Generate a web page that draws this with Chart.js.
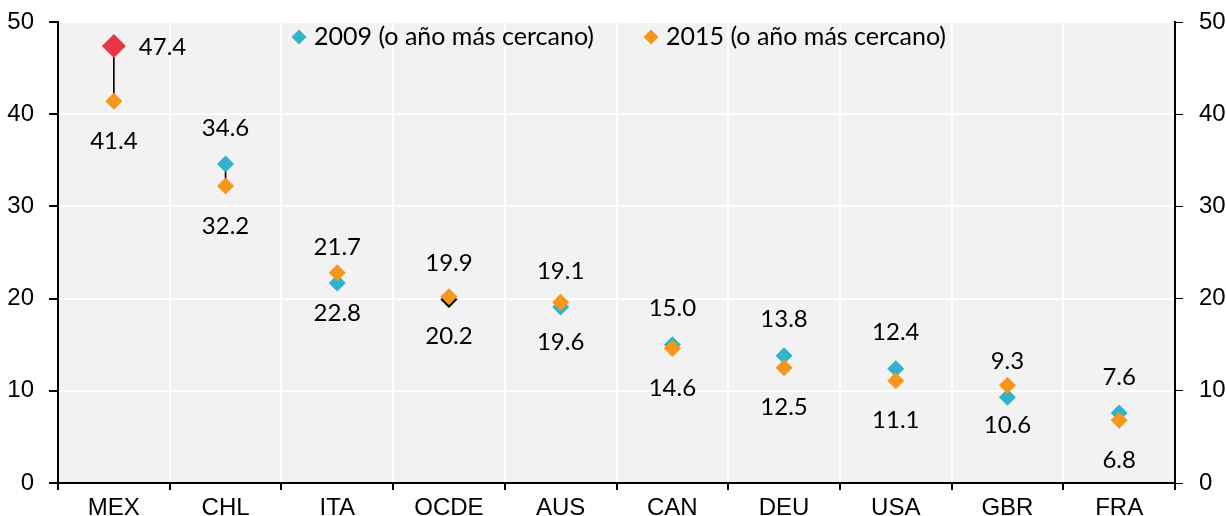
<!DOCTYPE html>
<html>
<head>
<meta charset="utf-8">
<script src="https://cdn.jsdelivr.net/npm/chart.js@4"></script>
<style>
html,body{margin:0;padding:0;background:#fff;}
#wrap{width:1226px;height:516px;}
</style>
</head>
<body>
<div id="wrap"><canvas id="c" width="1226" height="516"></canvas></div>
<script>
const categories = ["MEX","CHL","ITA","OCDE","AUS","CAN","DEU","USA","GBR","FRA"];
const values2009 = [47.4,34.6,21.7,19.9,19.1,15.0,13.8,12.4,9.3,7.6];
const values2015 = [41.4,32.2,22.8,20.2,19.6,14.6,12.5,11.1,10.6,6.8];
const connectorLow = [41.4,32.2,null,null,null,null,null,null,null,null];
const connectorHigh = [47.4,34.6,null,null,null,null,null,null,null,null];
const legendLabels = ["2009 (o año más cercano)","2015 (o año más cercano)"];
const yTicks = [0,10,20,30,40,50];

const TEAL = "#31B3CC";
const ORANGE = "#F7961C";
const RED = "#E63843";
const BLACK = "#000000";

const colors2009 = categories.map(c => c === "MEX" ? RED : (c === "OCDE" ? BLACK : TEAL));
const radius2009 = categories.map(c => c === "MEX" ? 12 : 8.5);

const connectorData = connectorLow.map((v,i) => v === null ? null : [v, connectorHigh[i]]);

const bgPlugin = {
  id: "bg",
  beforeDraw(chart) {
    const a = chart.chartArea, ctx = chart.ctx;
    ctx.save();
    ctx.fillStyle = "#F2F2F2";
    ctx.fillRect(a.left, a.top, a.right - a.left, a.bottom - a.top);
    ctx.restore();
  }
};

const labelPlugin = {
  id: "labels",
  afterDatasetsDraw(chart) {
    const ctx = chart.ctx;
    ctx.save();
    ctx.fillStyle = "#000";
    ctx.font = '24px Lato, "Open Sans", sans-serif';
    ctx.textBaseline = "middle";
    const m09 = chart.getDatasetMeta(1);
    const m15 = chart.getDatasetMeta(2);
    m09.data.forEach((pt, i) => {
      const txt = values2009[i].toFixed(1);
      if (i === 0) {
        ctx.textAlign = "left";
        ctx.fillText(txt, pt.x + 25, pt.y + 1);
      } else {
        ctx.textAlign = "center";
        ctx.fillText(txt, pt.x, pt.y - 36);
      }
    });
    m15.data.forEach((pt, i) => {
      const txt = values2015[i].toFixed(1);
      ctx.textAlign = "center";
      ctx.fillText(txt, pt.x, pt.y + 40);
    });
    ctx.restore();
  }
};

function diamond(ctx, x, y, r, color) {
  ctx.beginPath();
  ctx.moveTo(x, y - r); ctx.lineTo(x + r, y); ctx.lineTo(x, y + r); ctx.lineTo(x - r, y); ctx.closePath();
  ctx.fillStyle = color; ctx.fill();
}

const legendPlugin = {
  id: "customLegend",
  afterDraw(chart) {
    const ctx = chart.ctx;
    ctx.save();
    ctx.font = '25px Lato, "Open Sans", sans-serif';
    ctx.textBaseline = "middle";
    ctx.textAlign = "left";
    const y = 37;
    diamond(ctx, 299, y, 7.5, TEAL);
    ctx.fillStyle = "#000";
    ctx.fillText(legendLabels[0], 314, y);
    diamond(ctx, 651, y, 7.5, ORANGE);
    ctx.fillStyle = "#000";
    ctx.fillText(legendLabels[1], 666, y);
    ctx.restore();
  }
};

const tickFont = { family: '"Liberation Sans Narrow", "Arial Narrow", "Liberation Sans", sans-serif', size: 24 };

function fixY(width) {
  return function(s) { s.width = width; s.paddingTop = 0; s.paddingBottom = 0; };
}

new Chart(document.getElementById("c"), {
  data: {
    labels: categories,
    datasets: [
      {
        type: "bar",
        data: connectorData,
        backgroundColor: BLACK,
        borderWidth: 0,
        barThickness: 1,
        order: 3,
        yAxisID: "y"
      },
      {
        type: "line",
        label: legendLabels[0],
        data: values2009,
        showLine: false,
        pointStyle: "rectRot",
        pointRadius: radius2009,
        pointBackgroundColor: colors2009,
        pointBorderColor: colors2009,
        pointBorderWidth: 0,
        order: 2,
        yAxisID: "y"
      },
      {
        type: "line",
        label: legendLabels[1],
        data: values2015,
        showLine: false,
        pointStyle: "rectRot",
        pointRadius: 8.5,
        pointBackgroundColor: ORANGE,
        pointBorderColor: ORANGE,
        pointBorderWidth: 0,
        order: 1,
        yAxisID: "y"
      }
    ]
  },
  options: {
    responsive: false,
    animation: false,
    layout: { padding: { top: 22, left: 0, right: 0, bottom: 0 } },
    plugins: { legend: { display: false }, tooltip: { enabled: false } },
    scales: {
      x: {
        type: "category",
        offset: true,
        grid: { offset: true, color: "#FFFFFF", lineWidth: 2, tickColor: "#000", tickLength: 7, drawOnChartArea: true },
        border: { color: "#000", width: 2 },
        ticks: { color: "#000", font: tickFont, padding: 4, maxRotation: 0 },
        afterFit(s) { s.height = 33; s.paddingLeft = 0; s.paddingRight = 0; }
      },
      y: {
        position: "left",
        min: 0, max: 50,
        afterBuildTicks(s) { s.ticks = yTicks.map(v => ({ value: v })); },
        grid: { color: "#FFFFFF", lineWidth: 2, tickColor: "#000", tickLength: 9 },
        border: { color: "#000", width: 2 },
        ticks: { color: "#000", font: tickFont, padding: 15 },
        afterFit: fixY(58)
      },
      y2: {
        position: "right",
        min: 0, max: 50,
        afterBuildTicks(s) { s.ticks = yTicks.map(v => ({ value: v })); },
        grid: { drawOnChartArea: false, tickColor: "#000", tickLength: 8 },
        border: { color: "#000", width: 2 },
        ticks: { color: "#000", font: tickFont, padding: 16 },
        afterFit: fixY(51)
      }
    }
  },
  plugins: [bgPlugin, labelPlugin, legendPlugin]
});
</script>
</body>
</html>
